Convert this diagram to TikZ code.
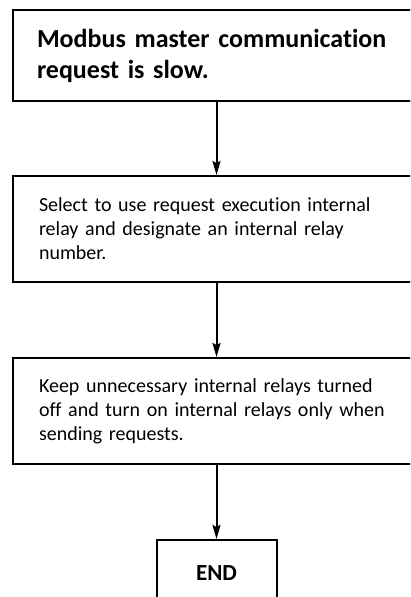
\documentclass[tikz,border=0pt]{standalone}
\usepackage{fontspec}
\setmainfont{Carlito}[Ligatures=NoCommon]
\usetikzlibrary{arrows.meta}

\begin{document}
\begin{tikzpicture}[x=1pt, y=1pt,
  box/.style={draw, line width=2pt, anchor=north west, align=left, text width=365pt,
              minimum width=413pt, inner xsep=26pt},
  title/.style={box, font=\fontsize{26}{31}\selectfont\bfseries, minimum height=91pt, inner xsep=21pt},
  endbox/.style={draw, line width=2pt, anchor=north, minimum width=120pt, minimum height=66pt,
                 font=\fontsize{23}{27}\selectfont\bfseries},
  flow/.style={-{Stealth[length=14pt, width=8pt, inset=2pt]}, line width=2pt}]
  \useasboundingbox (0,0) rectangle (410,-597);
  \clip (0,0) rectangle (410,-597);
  \node[title] (start) at (12,-9) {Modbus master communication\\request is slow.};
  \node[box, minimum height=106pt, font=\fontsize{20}{24}\selectfont] (select) at (12,-175)
    {Select to use request execution internal\\relay and designate an internal relay\\number.};
  \node[box, minimum height=106pt, font=\fontsize{20}{24}\selectfont] (keep) at (12,-357)
    {Keep unnecessary internal relays turned\\off and turn on internal relays only when\\sending requests.};
  \node[endbox] (done) at (216.5,-539) {END};
  \draw[flow] (start.south -| done.north) -- (select.north -| done.north);
  \draw[flow] (select.south -| done.north) -- (keep.north -| done.north);
  \draw[flow] (keep.south -| done.north) -- (done.north);
\end{tikzpicture}
\end{document}
